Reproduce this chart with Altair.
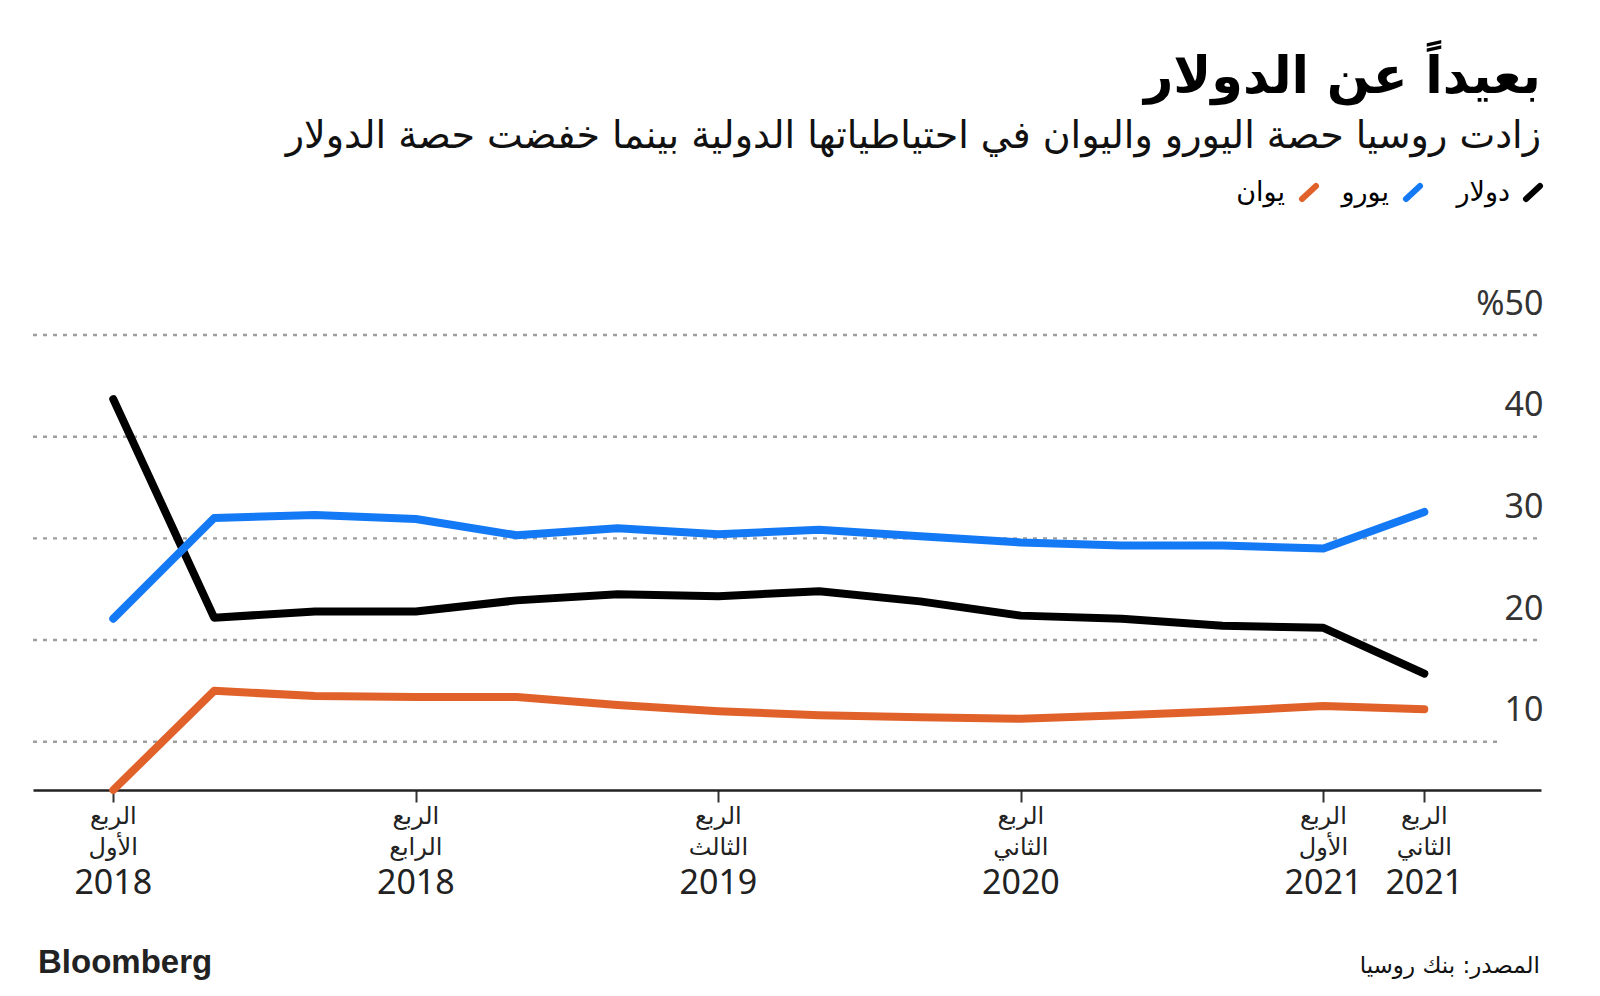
import altair as alt
import pandas as pd

# ---------------- data ----------------
quarters = ["2018Q1", "2018Q2", "2018Q3", "2018Q4", "2019Q1", "2019Q2", "2019Q3",
            "2019Q4", "2020Q1", "2020Q2", "2020Q3", "2020Q4", "2021Q1", "2021Q2"]
dollar = [43.7, 22.2, 22.8, 22.8, 23.9, 24.5, 24.3, 24.8, 23.8, 22.4, 22.1, 21.4, 21.2, 16.7]
euro = [22.1, 32.0, 32.3, 31.9, 30.3, 31.0, 30.4, 30.85, 30.2, 29.6, 29.3, 29.3, 29.0, 32.6]
yuan = [5.25, 15.0, 14.5, 14.4, 14.4, 13.6, 13.0, 12.6, 12.4, 12.25, 12.6, 13.0, 13.5, 13.2]

series_names = ["دولار", "يورو", "يوان"]
series_colors = ["#000000", "#1479f5", "#e0622a"]

tick_quarters = ["2018Q1", "2018Q4", "2019Q3", "2020Q2", "2021Q1", "2021Q2"]
tick_qnames = ["الأول", "الرابع", "الثالث", "الثاني", "الأول", "الثاني"]
tick_years = ["2018", "2018", "2019", "2020", "2021", "2021"]
y_ticks = [10, 20, 30, 40, 50]

title_text = "بعيداً عن الدولار"
subtitle_text = "زادت روسيا حصة اليورو واليوان في احتياطياتها الدولية بينما خفضت حصة الدولار"
source_text = "المصدر: بنك روسيا"
logo_text = "Bloomberg"
quarter_word = "الربع"

# ---------------- tables ----------------
rows = []
for name, vals in zip(series_names, [dollar, euro, yuan]):
    for i, (q, v) in enumerate(zip(quarters, vals)):
        rows.append({"series": name, "idx": i, "quarter": q, "value": v})
df = pd.DataFrame(rows)

tick_idx = [quarters.index(q) for q in tick_quarters]
ticks_df = pd.DataFrame({"idx": tick_idx, "qname": tick_qnames, "year": tick_years,
                         "word": [quarter_word] * len(tick_idx)})

W = 1508
H = 455
ARABIC = "DejaVu Sans"
NUM = "Noto Sans"

x_scale = alt.Scale(domain=[-0.796, 14.157], nice=False, zero=False)
y_scale = alt.Scale(domain=[5.25, 50], nice=False, zero=False)

x_axis = alt.Axis(values=tick_idx, labels=False, grid=False, title=None,
                  domainColor="#222222", domainWidth=2.5,
                  tickColor="#333333", tickWidth=2, tickSize=12)
y_axis = alt.Axis(orient="right", values=y_ticks, grid=False, domain=False, ticks=False, title=None,
                  labelAlign="right", labelPadding=2, labelOffset=-21,
                  labelBaseline="alphabetic", labelFont=NUM, labelFontSize=34,
                  labelColor="#333333",
                  labelExpr="datum.value == 50 ? '%50' : datum.label")

X = lambda: alt.X("idx:Q", scale=x_scale, axis=x_axis, title=None)
Y = lambda: alt.Y("value:Q", scale=y_scale, axis=y_axis, title=None)

grid_df = pd.DataFrame({"value": [v for v in y_ticks if v != 10]})
grid = alt.Chart(grid_df).mark_rule(color="#9e9e9e", strokeWidth=2.4, strokeDash=[4, 6]).encode(
    x=alt.value(0), x2=alt.value(W + 2), y=Y(),
)
grid10 = alt.Chart(pd.DataFrame({"value": [10]})).mark_rule(color="#9e9e9e", strokeWidth=2.4, strokeDash=[4, 6]).encode(
    x=alt.value(0), x2=alt.value(1467), y=Y(),
)

lines = alt.Chart(df).mark_line(strokeWidth=8, strokeCap="round", strokeJoin="round").encode(
    x=X(), y=Y(),
    color=alt.Color("series:N", scale=alt.Scale(domain=series_names, range=series_colors), legend=None),
    order=alt.Order("idx:Q"),
)

xlab_word = alt.Chart(ticks_df).mark_text(font=ARABIC, fontSize=24, color="#222222",
                                          align="center", baseline="alphabetic").encode(
    x=X(), y=alt.value(H + 34), text="word:N")
xlab_q = alt.Chart(ticks_df).mark_text(font=ARABIC, fontSize=24, color="#222222",
                                       align="center", baseline="alphabetic").encode(
    x=X(), y=alt.value(H + 65), text="qname:N")
xlab_year = alt.Chart(ticks_df).mark_text(font=NUM, fontSize=34, color="#222222",
                                          align="center", baseline="alphabetic").encode(
    x=X(), y=alt.value(H + 104), text="year:N")


def text_layer(txt, x, y, size, font=ARABIC, weight="normal", align="right", color="#000000"):
    return alt.Chart(pd.DataFrame({"t": [txt]})).mark_text(
        font=font, fontSize=size, fontWeight=weight, align=align, baseline="alphabetic", color=color
    ).encode(x=alt.value(x), y=alt.value(y), text="t:N")


title = text_layer(title_text, W, -242, 51, weight="bold")
subtitle = text_layer(subtitle_text, W, -187, 38, color="#111111")
source = text_layer(source_text, W - 1, 638, 23, color="#111111")
logo = text_layer(logo_text, 5, 638, 33, font="Liberation Sans", weight="bold", align="left", color="#222222")

legend_layers = []
sw_x = [1493, 1373, 1269]
txt_x = [1477, 1356, 1252]
for i, name in enumerate(series_names):
    legend_layers.append(
        alt.Chart(pd.DataFrame({"s": [name]})).mark_rule(strokeWidth=6, strokeCap="round").encode(
            x=alt.value(sw_x[i]), x2=alt.value(sw_x[i] + 14),
            y=alt.value(-136), y2=alt.value(-149),
            color=alt.value(series_colors[i]))
    )
    legend_layers.append(text_layer(name, txt_x[i], -134, 27))

chart = alt.layer(
    grid, grid10, lines, xlab_word, xlab_q, xlab_year, title, subtitle, source, logo, *legend_layers
).properties(
    width=W, height=H,
    padding={"left": 25, "top": 327, "right": 40, "bottom": 195},
    autosize=alt.AutoSizeParams(type="none"),
    background="white",
).configure_view(stroke=None)

chart.save("out.html", embed_options={"renderer": "svg", "actions": False})
